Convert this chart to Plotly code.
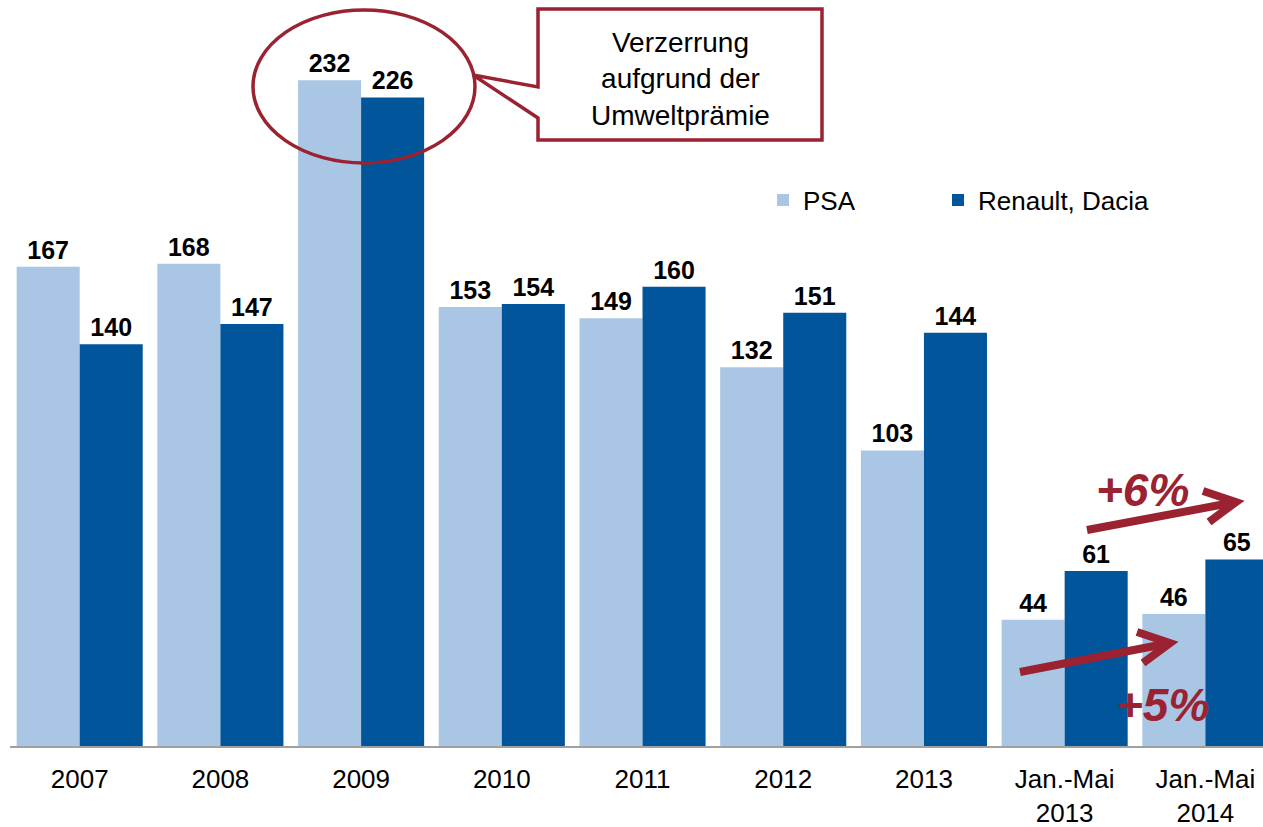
import plotly.graph_objects as go

categories = ["2007", "2008", "2009", "2010", "2011", "2012", "2013",
              "Jan.-Mai<br>2013", "Jan.-Mai<br>2014"]
psa = [167, 168, 232, 153, 149, 132, 103, 44, 46]
renault = [140, 147, 226, 154, 160, 151, 144, 61, 65]
series_names = ["PSA", "Renault, Dacia"]

W, H = 1263, 827
L, R, T, B = 10, 0, 0, 81
PW, PH = W - L - R, H - T - B
RED = "#9B2230"
FONT = "Liberation Sans, Arial, sans-serif"


def px(x):
    return (x - L) / PW


def py(y):
    return (H - B - y) / PH


fig = go.Figure()
fig.add_trace(go.Bar(x=list(range(len(categories))), y=psa, name=series_names[0],
                     marker=dict(color="#A9C6E4", line=dict(width=0)),
                     text=psa, texttemplate="<b>%{text}</b>", textposition="outside",
                     textfont=dict(size=25, color="black", family=FONT), cliponaxis=False,
                     legend="legend"))
fig.add_trace(go.Bar(x=list(range(len(categories))), y=renault, name=series_names[1],
                     marker=dict(color="#00559B", line=dict(width=0)),
                     text=renault, texttemplate="<b>%{text}</b>", textposition="outside",
                     textfont=dict(size=25, color="black", family=FONT), cliponaxis=False,
                     legend="legend2"))

shapes = []
# ellipse around 2009
shapes.append(dict(type="circle", xref="paper", yref="paper",
                   x0=px(253), x1=px(475), y0=py(163), y1=py(10),
                   line=dict(color=RED, width=3.5), layer="above"))
# callout box with pointer
pts = [(538, 9), (822, 9), (822, 140), (538, 140), (538, 118), (473, 75), (538, 87)]
path = "M " + " L ".join(f"{px(a):.5f},{py(b):.5f}" for a, b in pts) + " Z"
shapes.append(dict(type="path", xref="paper", yref="paper", path=path,
                   fillcolor="white", line=dict(color=RED, width=3.5), layer="above"))


def arrow(x0, y0, x1, y1, h1, h2):
    p = (f"M {px(x0):.5f},{py(y0):.5f} L {px(x1):.5f},{py(y1):.5f} "
         f"M {px(h1[0]):.5f},{py(h1[1]):.5f} L {px(x1):.5f},{py(y1):.5f} "
         f"L {px(h2[0]):.5f},{py(h2[1]):.5f}")
    return dict(type="path", xref="paper", yref="paper", path=p,
                line=dict(color=RED, width=8), layer="above")


shapes.append(arrow(1087, 530, 1236, 502, (1203, 491), (1209, 522)))
shapes.append(arrow(1020, 672, 1170, 643, (1137, 632), (1143, 663)))

annotations = [
    dict(xref="paper", yref="paper", x=px(680), y=py(79), xanchor="center", yanchor="middle",
         text="Verzerrung<br>aufgrund der<br>Umweltprämie",
         showarrow=False, font=dict(size=28, color="black", family=FONT), align="center"),
    dict(xref="paper", yref="paper", x=px(1142), y=py(490), xanchor="center", yanchor="middle",
         text="<b><i>+6%</i></b>",
         showarrow=False, font=dict(size=46, color=RED, family=FONT)),
    dict(xref="paper", yref="paper", x=px(1162), y=py(705), xanchor="center", yanchor="middle",
         text="<b><i>+5%</i></b>",
         showarrow=False, font=dict(size=46, color=RED, family=FONT)),
]

legend_common = dict(orientation="h", yanchor="middle", xanchor="left",
                     font=dict(size=26, color="black", family=FONT),
                     bgcolor="rgba(0,0,0,0)")

fig.update_layout(
    width=W, height=H,
    margin=dict(l=L, r=R, t=T, b=B, pad=0, autoexpand=False),
    paper_bgcolor="white", plot_bgcolor="white",
    barmode="group", bargap=0.104, bargroupgap=0,
    font=dict(family=FONT, color="black"),
    showlegend=True,
    legend=dict(x=px(763), y=py(200), **legend_common),
    legend2=dict(x=px(938), y=py(200), **legend_common),
    shapes=shapes, annotations=annotations,
    xaxis=dict(tickmode="array", tickvals=list(range(len(categories))), ticktext=categories,
               range=[-0.4952, 8.4096], showline=True, linecolor="#A0A0A0", linewidth=2,
               ticks="", showgrid=False, zeroline=False, ticklabelstandoff=9,
               automargin=False,
               tickfont=dict(size=26, color="black", family=FONT), fixedrange=True),
    yaxis=dict(range=[0, (H - B - T) / 2.87], visible=False, showgrid=False, zeroline=False,
               automargin=False, fixedrange=True),
)

fig.write_html("out.html", config={"displayModeBar": False},
               post_script="document.body.style.margin='0';document.body.style.overflow='hidden';")
